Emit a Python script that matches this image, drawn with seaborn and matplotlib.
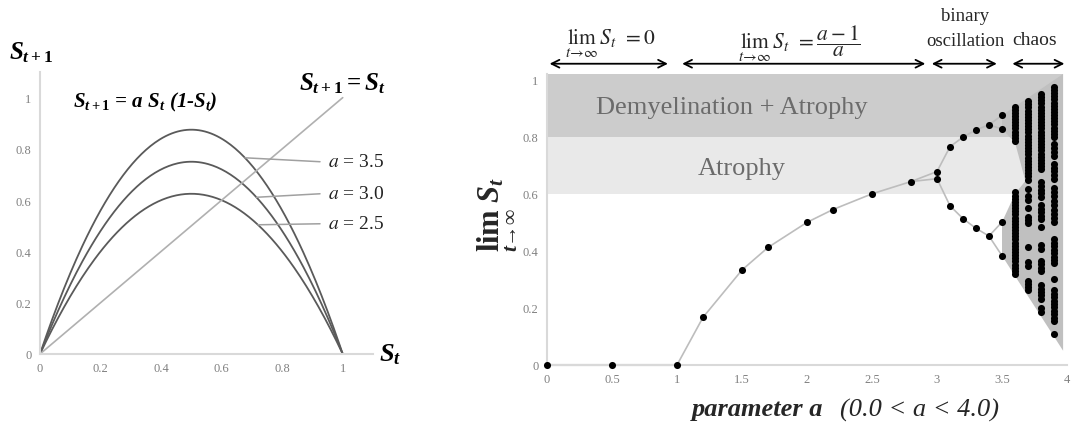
import numpy as np
import pandas as pd
import matplotlib
matplotlib.use("Agg")
import matplotlib.pyplot as plt
import seaborn as sns
from matplotlib.patches import Polygon

# ---------------- data ----------------
# left panel: logistic map curves S_{t+1} = a S_t (1 - S_t)
growth_rates = [2.5, 3.0, 3.5]
growth_labels = ["$a$ = 2.5", "$a$ = 3.0", "$a$ = 3.5"]
label_heights = [0.508, 0.625, 0.75]
leader_start_s = [0.72, 0.715, 0.677]
left_ticks = [0, 0.2, 0.4, 0.6, 0.8, 1]
left_tick_labels = ["0", "0.2", "0.4", "0.6", "0.8", "1"]

# right panel: long-run state versus parameter a
a_steady = [0.0, 0.5, 1.0, 1.2, 1.5, 1.7, 2.0, 2.2, 2.5, 2.8]
s_steady = [0.0, 0.0, 0.0, 0.167, 0.333, 0.412, 0.5, 0.545, 0.6, 0.643]
a_branch = [3.0, 3.1, 3.2, 3.3, 3.4]
s_upper = [0.678, 0.765, 0.799, 0.824, 0.842]
s_lower = [0.653, 0.558, 0.513, 0.479, 0.452]
a_period4 = 3.5
s_period4 = [0.875, 0.827, 0.501, 0.383]

chaos_a = [3.6, 3.7, 3.8, 3.9]
chaos_36 = [0.905, 0.895, 0.884, 0.873, 0.862, 0.851, 0.840, 0.829, 0.818, 0.807,
            0.796, 0.785, 0.605, 0.594, 0.583, 0.572, 0.561, 0.550, 0.539, 0.528,
            0.517, 0.506, 0.495, 0.484, 0.473, 0.462, 0.451, 0.440, 0.429, 0.418,
            0.407, 0.396, 0.385, 0.374, 0.363, 0.352, 0.341, 0.330, 0.320]
chaos_37 = [0.925, 0.914, 0.903, 0.892, 0.881, 0.870, 0.859, 0.848, 0.837, 0.826,
            0.815, 0.804, 0.793, 0.782, 0.771, 0.760, 0.749, 0.738, 0.727, 0.716,
            0.705, 0.694, 0.683, 0.672, 0.661, 0.650, 0.618, 0.592, 0.580, 0.552,
            0.520, 0.508, 0.497, 0.414, 0.362, 0.348, 0.296, 0.284, 0.272, 0.262]
chaos_38 = [0.950, 0.939, 0.928, 0.917, 0.906, 0.895, 0.884, 0.873, 0.862, 0.851,
            0.840, 0.829, 0.818, 0.807, 0.796, 0.785, 0.774, 0.763, 0.752, 0.741,
            0.730, 0.719, 0.708, 0.697, 0.686, 0.640, 0.628, 0.615, 0.602, 0.590,
            0.560, 0.548, 0.536, 0.524, 0.512, 0.484, 0.420, 0.405, 0.365, 0.353,
            0.341, 0.330, 0.280, 0.268, 0.256, 0.244, 0.232, 0.200, 0.185]
chaos_39 = [0.975, 0.964, 0.953, 0.942, 0.931, 0.920, 0.909, 0.898, 0.887, 0.876,
            0.865, 0.854, 0.843, 0.832, 0.821, 0.810, 0.800, 0.775, 0.760, 0.745,
            0.733, 0.705, 0.692, 0.679, 0.666, 0.653, 0.620, 0.607, 0.594, 0.575,
            0.560, 0.545, 0.530, 0.515, 0.502, 0.440, 0.428, 0.416, 0.404, 0.392,
            0.380, 0.368, 0.356, 0.300, 0.262, 0.250, 0.238, 0.226, 0.214, 0.202,
            0.190, 0.178, 0.166, 0.154, 0.110]

# shaded chaotic envelope (a, S)
chaos_envelope = [(3.5, 0.875), (3.97, 1.02), (3.97, 0.05), (3.5, 0.383),
                  (3.5, 0.501), (3.6, 0.60), (3.68, 0.645), (3.6, 0.78),
                  (3.5, 0.827)]

# clinical bands
band_atrophy = (0.6, 0.8)
band_demyelination = (0.8, 1.02)
band_a_range = (0.0, 3.97)

right_yticks = [0, 0.2, 0.4, 0.6, 0.8, 1]
right_ytick_labels = ["0", "0.2", "0.4", "0.6", "0.8", "1"]
right_xticks = [0, 0.5, 1, 1.5, 2, 2.5, 3, 3.5, 4]
right_xtick_labels = ["0", "0.5", "1", "1.5", "2", "2.5", "3", "3.5", "4"]

# regime arrows: (start a, end a)
regime_spans = [(0.02, 0.93), (1.04, 2.91), (2.96, 3.46), (3.58, 3.98)]

# ---------------- style ----------------
sns.set_theme(style="white")
plt.rcParams["font.family"] = ["Liberation Serif", "DejaVu Serif"]
plt.rcParams["mathtext.fontset"] = "custom"
plt.rcParams["mathtext.rm"] = "Liberation Serif:bold"
plt.rcParams["mathtext.bf"] = "Liberation Serif:bold"
plt.rcParams["mathtext.it"] = "Liberation Serif:bold:italic"
plt.rcParams["mathtext.fallback"] = "stix"

TICK_COLOR = "#808080"
SPINE_COLOR = "#d9d9d9"

fig = plt.figure(figsize=(10.75, 4.31), dpi=100)
fig.patch.set_facecolor("white")

ax1 = fig.add_axes([40 / 1075, 76 / 431, 333 / 1075, 282 / 431])
ax2 = fig.add_axes([547 / 1075, 65 / 431, 520 / 1075, 291 / 431])

for ax in (ax1, ax2):
    ax.set_facecolor("none")
    for side in ("top", "right"):
        ax.spines[side].set_visible(False)
    for side in ("left", "bottom"):
        ax.spines[side].set_color(SPINE_COLOR)
        ax.spines[side].set_linewidth(1.5)
    ax.tick_params(length=0, colors=TICK_COLOR, labelsize=9, pad=6)

# ---------------- left panel ----------------
s_grid = np.linspace(0, 1, 201)
curves = pd.DataFrame({
    "S_t": np.tile(s_grid, len(growth_rates)),
    "S_next": np.concatenate([a * s_grid * (1 - s_grid) for a in growth_rates]),
    "a": np.repeat([str(a) for a in growth_rates], len(s_grid)),
})
sns.lineplot(data=curves, x="S_t", y="S_next", hue="a",
             palette=["#5a5a5a"] * len(growth_rates), linewidth=1.3,
             legend=False, ax=ax1)
identity = pd.DataFrame({"S_t": [0, 1], "S_next": [0, 1]})
sns.lineplot(data=identity, x="S_t", y="S_next", color="#b0b0b0",
             linewidth=1.2, ax=ax1)

for a, lab, ly, sx in zip(growth_rates, growth_labels, label_heights, leader_start_s):
    sy = a * sx * (1 - sx)
    ax1.plot([sx, 0.925], [sy, ly], color="#a0a0a0", lw=1.1)
    ax1.text(0.95, ly, lab, fontsize=14, va="center", ha="left",
             color="#222222", math_fontfamily="stix")

ax1.set_xlim(0, 1.1)
ax1.set_ylim(0, 1.1)
ax1.set_xticks(left_ticks)
ax1.set_xticklabels(left_tick_labels)
ax1.set_yticks(left_ticks)
ax1.set_yticklabels(left_tick_labels)
ax1.set_xlabel("")
ax1.set_ylabel("")

bi = dict(fontweight="bold", fontstyle="italic", color="black")
ax1.text(-0.03, 1.18, r"$S_{t+1}$", fontsize=18, ha="center", va="center",
         clip_on=False, **bi)
ax1.text(0.11, 0.984, r"S$_{t+1}$ = a S$_t$ (1-S$_t$)", fontsize=15,
         ha="left", va="center", **bi)
ax1.text(0.855, 1.06, r"$S_{t+1} = S_t$", fontsize=18, ha="left",
         va="center", clip_on=False, **bi)
ax1.text(1.12, 0.0, r"$S_t$", fontsize=19, ha="left", va="center",
         clip_on=False, **bi)

# ---------------- right panel ----------------
ax2.fill_between(band_a_range, *band_demyelination, color="#cccccc",
                 linewidth=0, zorder=0)
ax2.fill_between(band_a_range, *band_atrophy, color="#e9e9e9",
                 linewidth=0, zorder=0)
ax2.add_patch(Polygon(chaos_envelope, closed=True, facecolor="#c0c0c0",
                      edgecolor="none", zorder=1))

ax2.text(1.42, 0.905, "Demyelination + Atrophy", fontsize=19,
         color="#6b6b6b", ha="center", va="center", zorder=2)
ax2.text(1.5, 0.69, "Atrophy", fontsize=19, color="#6b6b6b",
         ha="center", va="center", zorder=2)

# connecting paths through the attractor points
paths = []
paths.append(pd.DataFrame({"a": a_steady + a_branch + [a_period4],
                           "S": s_steady + s_upper + [s_period4[0]], "path": 0}))
paths.append(pd.DataFrame({"a": [a_branch[-1], a_period4],
                           "S": [s_upper[-1], s_period4[1]], "path": 1}))
paths.append(pd.DataFrame({"a": [a_steady[-1]] + a_branch + [a_period4],
                           "S": [s_steady[-1]] + s_lower + [s_period4[2]], "path": 2}))
paths.append(pd.DataFrame({"a": [a_branch[-1], a_period4],
                           "S": [s_lower[-1], s_period4[3]], "path": 3}))
path_df = pd.concat(paths, ignore_index=True)
sns.lineplot(data=path_df, x="a", y="S", units="path", estimator=None,
             sort=False, color="#bdbdbd", linewidth=1.2, ax=ax2, zorder=2)
ax2.plot(a_steady[:3], s_steady[:3], color="#a0a0a0", lw=1.5, zorder=2,
         clip_on=False)

points = pd.concat([
    pd.DataFrame({"a": a_steady, "S": s_steady}),
    pd.DataFrame({"a": a_branch, "S": s_upper}),
    pd.DataFrame({"a": a_branch, "S": s_lower}),
    pd.DataFrame({"a": [a_period4] * len(s_period4), "S": s_period4}),
    pd.DataFrame({"a": [chaos_a[0]] * len(chaos_36), "S": chaos_36}),
    pd.DataFrame({"a": [chaos_a[1]] * len(chaos_37), "S": chaos_37}),
    pd.DataFrame({"a": [chaos_a[2]] * len(chaos_38), "S": chaos_38}),
    pd.DataFrame({"a": [chaos_a[3]] * len(chaos_39), "S": chaos_39}),
], ignore_index=True)
sns.scatterplot(data=points, x="a", y="S", color="black", s=26,
                linewidth=0, ax=ax2, zorder=3, clip_on=False)

ax2.set_xlim(0, 4)
ax2.set_ylim(0, 1.02)
ax2.set_xticks(right_xticks)
ax2.set_xticklabels(right_xtick_labels)
ax2.set_yticks(right_yticks)
ax2.set_yticklabels(right_ytick_labels)
ax2.set_xlabel("")
ax2.set_ylabel("")

# regime arrows and labels
for a0, a1 in regime_spans:
    ax2.annotate("", xy=(a1, 1.056), xytext=(a0, 1.056),
                 arrowprops=dict(arrowstyle="<->", color="black", lw=1.3,
                                 mutation_scale=14, shrinkA=0, shrinkB=0),
                 annotation_clip=False)

ax2.text(0.49, 1.13, r"$\lim_{t\to\infty}\, S_t\;=0$", fontsize=15.5,
         ha="center", va="center", math_fontfamily="stix", clip_on=False)
ax2.text(1.94, 1.13, r"$\lim_{t\to\infty}\, S_t\;=\dfrac{a-1}{a}$", fontsize=15.5,
         ha="center", va="center", math_fontfamily="stix", clip_on=False)
ax2.text(3.215, 1.18, "binary\noscillation", fontsize=13.5, ha="center",
         va="center", linespacing=1.6, clip_on=False)
ax2.text(3.75, 1.14, "chaos", fontsize=14, ha="center", va="center",
         clip_on=False)

# axis titles
fig.text(498 / 1075, 1 - 215 / 431, r"$\lim_{t\to\infty}\; S_t$", fontsize=22,
         rotation=90, ha="center", va="center")
fig.text(823 / 1075, 1 - 410 / 431, "parameter a", fontsize=19,
         fontweight="bold", fontstyle="italic", ha="right", va="center")
fig.text(840 / 1075, 1 - 410 / 431, "(0.0 < a < 4.0)", fontsize=19,
         fontstyle="italic", ha="left", va="center")

fig.savefig("out.png", dpi=100, facecolor="white")
